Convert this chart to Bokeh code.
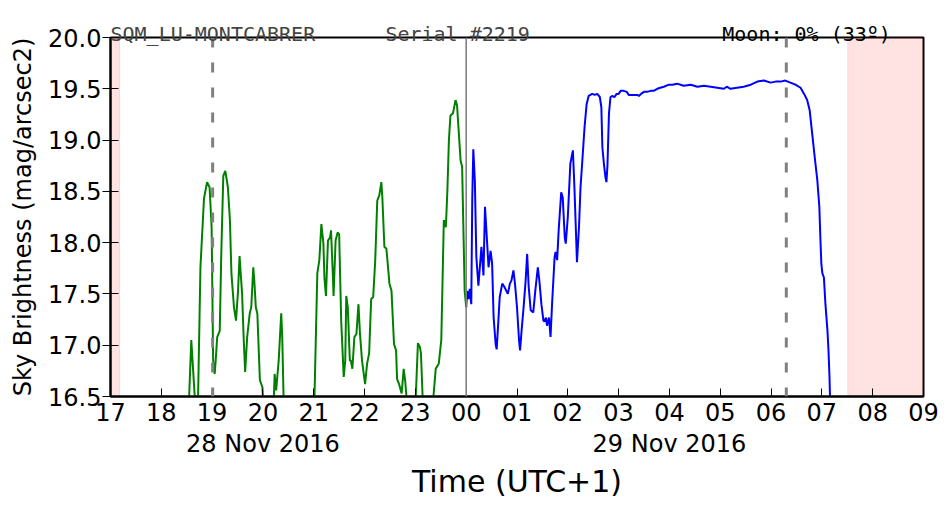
from bokeh.plotting import figure
from bokeh.models import (Range1d, LinearAxis, FixedTicker, Span, BoxAnnotation,
                          PrintfTickFormatter, ColumnDataSource)
from bokeh.core.properties import value
from bokeh.embed import file_html
from bokeh.resources import INLINE

# ---------------- data ----------------
# hours after 00:00 of 28 Nov 2016 (local, UTC+1); values in mag/arcsec2
green_hours = [18.52, 18.54, 18.59, 18.67, 18.72, 18.77, 18.84, 18.90, 18.95, 18.99,
               19.02, 19.05, 19.07, 19.10, 19.15, 19.18, 19.22, 19.26, 19.31, 19.35,
               19.38, 19.43, 19.47, 19.51, 19.54, 19.59, 19.62, 19.65, 19.69, 19.74,
               19.77, 19.81, 19.83, 19.86, 19.89, 19.94, 19.99, 20.01, 20.21, 20.23,
               20.26, 20.31, 20.36, 20.38, 20.41, 21.01, 21.07, 21.11, 21.15, 21.19,
               21.21, 21.24, 21.28, 21.32, 21.34, 21.38, 21.39, 21.43, 21.47, 21.50,
               21.54, 21.59, 21.62, 21.64, 21.67, 21.71, 21.73, 21.76, 21.80, 21.84,
               21.88, 21.91, 21.95, 22.01, 22.05, 22.09, 22.13, 22.17, 22.21, 22.25,
               22.29, 22.33, 22.35, 22.39, 22.43, 22.49, 22.53, 22.58, 22.62, 22.64,
               22.68, 22.73, 22.77, 22.80, 22.84, 23.00, 23.05, 23.09, 23.11, 23.15,
               23.34, 23.40, 23.46, 23.51, 23.56, 23.60, 23.63, 23.66, 23.69, 23.74,
               23.79, 23.82, 23.86, 23.89, 23.92, 23.95, 23.97, 24.00]
green_values = [16.30, 16.40, 17.05, 16.40, 16.40, 17.76, 18.43, 18.59, 18.54, 18.15,
                16.85, 16.72, 16.85, 17.08, 17.14, 17.89, 18.65, 18.70, 18.54, 18.22,
                17.70, 17.37, 17.24, 17.53, 17.87, 17.50, 17.08, 16.74, 17.08, 17.31,
                17.37, 17.76, 17.63, 17.37, 17.31, 16.66, 16.59, 16.40, 16.40, 16.72,
                16.56, 16.85, 17.31, 17.08, 16.40, 16.40, 17.70, 17.83, 18.18, 17.99,
                17.66, 17.48, 18.02, 18.05, 18.12, 17.63, 17.48, 18.02, 18.10, 18.08,
                17.24, 16.69, 16.85, 17.48, 17.37, 16.85, 16.85, 16.77, 17.08, 17.11,
                17.40, 17.11, 16.85, 16.62, 16.82, 16.92, 17.45, 17.47, 17.83, 18.41,
                18.46, 18.59, 18.44, 17.96, 17.94, 17.60, 17.53, 17.01, 16.95, 16.67,
                16.62, 16.53, 16.77, 16.65, 16.40, 16.40, 17.02, 16.98, 16.92, 16.40,
                16.40, 16.77, 16.82, 17.05, 18.22, 18.15, 18.51, 19.00, 19.24, 19.26,
                19.39, 19.34, 19.03, 18.80, 18.74, 18.02, 17.53, 17.37]

blue_hours = [24.00, 24.02, 24.05, 24.07, 24.10, 24.12, 24.14, 24.17, 24.20, 24.24,
              24.28, 24.30, 24.34, 24.37, 24.40, 24.44, 24.48, 24.51, 24.54, 24.58,
              24.60, 24.63, 24.66, 24.71, 24.75, 24.79, 24.82, 24.86, 24.89, 24.93,
              24.96, 25.00, 25.04, 25.06, 25.09, 25.13, 25.17, 25.20, 25.23, 25.27,
              25.32, 25.36, 25.41, 25.44, 25.48, 25.52, 25.54, 25.57, 25.59, 25.63,
              25.66, 25.69, 25.74, 25.76, 25.79, 25.82, 25.87, 25.90, 25.94, 25.96,
              26.00, 26.05, 26.10, 26.13, 26.17, 26.18, 26.22, 26.25, 26.29, 26.33,
              26.37, 26.41, 26.48, 26.53, 26.58, 26.63, 26.66, 26.68, 26.71, 26.74,
              26.76, 26.78, 26.81, 26.84, 26.87, 26.92, 26.96, 27.00, 27.04, 27.10,
              27.16, 27.20, 27.27, 27.37, 27.40, 27.44, 27.50, 27.56, 27.63, 27.69,
              27.76, 27.82, 27.89, 27.99, 28.06, 28.15, 28.22, 28.28, 28.42, 28.55,
              28.68, 28.81, 28.94, 29.07, 29.13, 29.20, 29.33, 29.46, 29.60, 29.73,
              29.86, 29.99, 30.09, 30.19, 30.28, 30.38, 30.48, 30.58, 30.65, 30.71,
              30.76, 30.81, 30.86, 30.91, 30.95, 30.97, 30.99, 31.01, 31.04, 31.07,
              31.11, 31.13, 31.15, 31.16, 31.18]
blue_values = [17.37, 17.53, 17.45, 17.55, 17.40, 18.44, 18.91, 18.61, 17.86, 17.58,
               17.83, 17.96, 17.68, 18.35, 18.10, 17.76, 17.92, 17.80, 17.27, 17.01,
               16.96, 17.21, 17.47, 17.60, 17.57, 17.53, 17.50, 17.60, 17.63, 17.73,
               17.60, 17.37, 17.05, 16.95, 17.14, 17.37, 17.63, 17.89, 17.57, 17.34,
               17.32, 17.53, 17.76, 17.63, 17.40, 17.24, 17.23, 17.27, 17.19, 17.27,
               17.08, 17.40, 17.86, 17.91, 17.83, 18.12, 18.49, 18.44, 18.05, 17.99,
               18.25, 18.77, 18.90, 18.54, 17.96, 17.81, 18.15, 18.54, 18.83, 19.13,
               19.35, 19.43, 19.45, 19.44, 19.45, 19.42, 19.32, 18.93, 18.77, 18.64,
               18.59, 18.75, 19.26, 19.42, 19.43, 19.42, 19.45, 19.45, 19.48, 19.48,
               19.47, 19.44, 19.44, 19.44, 19.43, 19.45, 19.47, 19.47, 19.48, 19.48,
               19.50, 19.51, 19.52, 19.54, 19.54, 19.55, 19.54, 19.53, 19.54, 19.52,
               19.53, 19.52, 19.51, 19.50, 19.52, 19.50, 19.51, 19.52, 19.54, 19.57,
               19.58, 19.56, 19.57, 19.57, 19.58, 19.56, 19.54, 19.51, 19.45, 19.39,
               19.29, 19.06, 18.83, 18.61, 18.35, 18.05, 17.79, 17.70, 17.66, 17.40,
               17.14, 16.95, 16.69, 16.50, 16.30]

hour_ticks = [17, 18, 19, 20, 21, 22, 23, 24, 25, 26, 27, 28, 29, 30, 31, 32, 33]
hour_labels = ["17", "18", "19", "20", "21", "22", "23", "00", "01", "02", "03",
               "04", "05", "06", "07", "08", "09"]
sky_ticks = [16.5, 17.0, 17.5, 18.0, 18.5, 19.0, 19.5, 20.0]
date_ticks = [20, 28]
date_labels = ["28 Nov 2016", "29 Nov 2016"]
twilight_spans = [(17.0, 17.18), (31.51, 33.0)]
moon_marks = [19.01, 30.30]
midnight = 24.0
header_texts = ["SQM_LU-MONTCABRER", "Serial #2219", "Moon: 0% (33º)"]
header_hours = [17.0, 22.41, 29.04]      # left edges of the header texts
header_level = [20.03, 20.03, 20.03]     # just above the top of the frame
header_colors = ["#444444", "#444444", "black"]

# ---------------- figure ----------------
FONT = "DejaVu Sans"
MONO = "DejaVu Sans Mono"

p = figure(width=952, height=512, output_backend="svg", toolbar_location=None,
           x_range=Range1d(17, 33), y_range=Range1d(16.5, 20.0),
           x_axis_type=None, y_axis_type=None,
           min_border_left=110, min_border_right=29, min_border_top=37,
           min_border_bottom=116)
p.background_fill_color = "white"
p.border_fill_color = "white"
p.outline_line_color = "black"
p.outline_line_width = 2

hour_ticker = FixedTicker(ticks=hour_ticks)
sky_ticker = FixedTicker(ticks=sky_ticks)

xaxis = LinearAxis(ticker=hour_ticker,
                   major_label_overrides={t: l for t, l in zip(hour_ticks, hour_labels)})
xaxis.major_label_text_font = FONT
xaxis.major_label_text_font_size = "24px"
xaxis.major_label_text_color = "black"
xaxis.major_label_standoff = 6
xaxis.major_tick_in = 8
xaxis.major_tick_out = 0
xaxis.minor_tick_line_color = None
xaxis.axis_line_width = 2
xaxis.major_tick_line_width = 1
p.add_layout(xaxis, "below")

daxis = LinearAxis(ticker=FixedTicker(ticks=date_ticks),
                   major_label_overrides={t: l for t, l in zip(date_ticks, date_labels)})
daxis.axis_line_color = None
daxis.major_tick_line_color = None
daxis.minor_tick_line_color = None
daxis.major_tick_in = 0
daxis.major_tick_out = 0
daxis.major_label_standoff = 6
daxis.major_label_text_font = FONT
daxis.major_label_text_font_size = "24px"
daxis.major_label_text_color = "black"
daxis.axis_label = "Time (UTC+1)"
daxis.axis_label_text_font = FONT
daxis.axis_label_text_font_size = "30px"
daxis.axis_label_text_font_style = "normal"
daxis.axis_label_text_color = "black"
daxis.axis_label_standoff = 3
p.add_layout(daxis, "below")

yaxis = LinearAxis(ticker=sky_ticker, formatter=PrintfTickFormatter(format="%.1f"))
yaxis.major_label_text_font = FONT
yaxis.major_label_text_font_size = "24px"
yaxis.major_label_text_color = "black"
yaxis.major_label_standoff = 1
yaxis.major_tick_in = 8
yaxis.major_tick_out = 8
yaxis.minor_tick_line_color = None
yaxis.axis_line_width = 2
yaxis.axis_label = "Sky Brightness (mag/arcsec2)"
yaxis.axis_label_text_font = FONT
yaxis.axis_label_text_font_size = "24px"
yaxis.axis_label_text_font_style = "normal"
yaxis.axis_label_text_color = "black"
yaxis.axis_label_standoff = 8
p.add_layout(yaxis, "left")

p.xgrid.ticker = hour_ticker
p.ygrid.ticker = sky_ticker
for g in (p.xgrid, p.ygrid):
    g.grid_line_color = "black"
    g.grid_line_width = 1
    g.grid_line_dash = "2 5"
    g.grid_line_alpha = 1.0

# twilight shading
for lo, hi in twilight_spans:
    p.add_layout(BoxAnnotation(left=lo, right=hi, fill_color="red", fill_alpha=0.11,
                               line_color="red", line_alpha=0.12, line_width=1,
                               level="underlay"))

# data lines
p.line(green_hours, green_values, line_color="#008000", line_width=2)
p.line(blue_hours, blue_values, line_color="#0000ff", line_width=2)

# midnight and moon marks
p.add_layout(Span(location=midnight, dimension="height", line_color="gray",
                  line_width=1.6))
for m in moon_marks:
    p.add_layout(Span(location=m, dimension="height", line_color="gray",
                      line_width=3, line_dash="10 15"))

# header texts (overlay level so they may sit above the frame)
hsrc = ColumnDataSource(dict(x=header_hours, y=header_level, text=header_texts,
                             color=header_colors))
p.text(x="x", y="y", text="text", source=hsrc, text_color="color",
       text_font=value(MONO), text_font_size="20px", text_align="left",
       text_baseline="alphabetic", level="overlay")

open("out.html", "w").write(file_html(p, INLINE))
